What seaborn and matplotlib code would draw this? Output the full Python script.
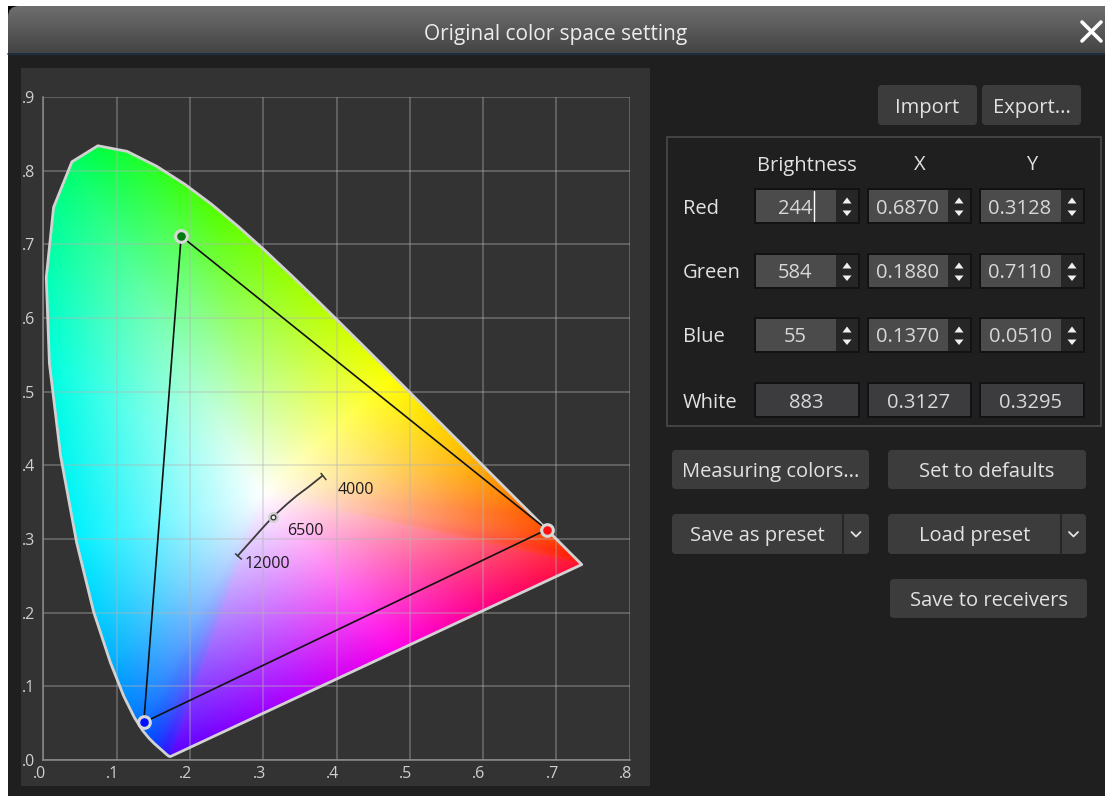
import numpy as np
import matplotlib
matplotlib.use('Agg')
import matplotlib.pyplot as plt
from matplotlib.patches import FancyBboxPatch, Rectangle, Polygon
from matplotlib.colors import LinearSegmentedColormap, to_rgb
from matplotlib.ticker import FuncFormatter
from matplotlib.transforms import ScaledTranslation
import seaborn as sns

sns.set_theme(style='dark')
plt.rcParams['font.family'] = ['Open Sans', 'DejaVu Sans']
plt.rcParams['patch.force_edgecolor'] = False

# ---------------------------------------------------------------------------
# data

# CIE 1931 spectral locus, 380-700 nm
locus_nm = [380, 390, 400, 410, 420, 425, 430, 435, 440, 445, 450, 455, 460,
            465, 470, 475, 480, 485, 490, 495, 500, 505, 510, 515, 520, 525,
            530, 535, 540, 545, 550, 555, 560, 565, 570, 575, 580, 585, 590,
            595, 600, 605, 610, 615, 620, 625, 630, 640, 650, 660, 680, 700]
locus_x = [0.1741, 0.1738, 0.1733, 0.1726, 0.1714, 0.1703, 0.1689, 0.1669,
           0.1644, 0.1611, 0.1566, 0.1510, 0.1440, 0.1355, 0.1241, 0.1096,
           0.0913, 0.0687, 0.0454, 0.0235, 0.0082, 0.0039, 0.0139, 0.0389,
           0.0743, 0.1142, 0.1547, 0.1929, 0.2296, 0.2658, 0.3016, 0.3373,
           0.3731, 0.4087, 0.4441, 0.4788, 0.5125, 0.5448, 0.5752, 0.6029,
           0.6270, 0.6482, 0.6658, 0.6801, 0.6915, 0.7006, 0.7079, 0.7190,
           0.7260, 0.7300, 0.7334, 0.7347]
locus_y = [0.0050, 0.0049, 0.0048, 0.0048, 0.0051, 0.0058, 0.0069, 0.0086,
           0.0109, 0.0138, 0.0177, 0.0227, 0.0297, 0.0399, 0.0578, 0.0868,
           0.1327, 0.2007, 0.2950, 0.4127, 0.5384, 0.6548, 0.7502, 0.8120,
           0.8338, 0.8262, 0.8059, 0.7816, 0.7543, 0.7243, 0.6923, 0.6589,
           0.6245, 0.5896, 0.5547, 0.5202, 0.4866, 0.4544, 0.4242, 0.3965,
           0.3725, 0.3514, 0.3340, 0.3197, 0.3083, 0.2993, 0.2920, 0.2809,
           0.2740, 0.2700, 0.2666, 0.2653]

# colours seen along the edge of the horseshoe
edge_nm = [380, 440, 460, 475, 490, 500, 510, 520, 540, 560, 575, 590, 610, 640, 700]
edge_colors = ['#5a00ff', '#2a1aff', '#0050ff', '#0090ff', '#00f0ff', '#00ffe0',
               '#00ff90', '#00ff40', '#50ff00', '#b0ff00', '#ffff00', '#ffc000',
               '#ff6000', '#ff2000', '#ff1030']
# colours along the line of purples, fraction from the red end
purple_t = [0.2, 0.45, 0.7]
purple_colors = ['#ff0078', '#ff00e8', '#b000ff']
fill_center = (0.30, 0.36)

# primaries of the colour space
channel_names = ['Red', 'Green', 'Blue']
channel_brightness = [244, 584, 55]
channel_x = [0.6870, 0.1880, 0.1370]
channel_y = [0.3128, 0.7110, 0.0510]
channel_colors = ['#ff1010', '#007a10', '#0010ff']

white_brightness = 883
white_x = 0.3127
white_y = 0.3295

# colour temperature curve 4000 K .. 12000 K
cct_k = [4000, 4500, 5000, 5500, 6000, 6500, 7500, 9000, 12000]
cct_x = [0.381, 0.3621, 0.3457, 0.3325, 0.3217, 0.3127, 0.2991, 0.2848, 0.265]
cct_y = [0.386, 0.3709, 0.3587, 0.3476, 0.3378, 0.3295, 0.3150, 0.2990, 0.277]

xticks = [0.0, 0.1, 0.2, 0.3, 0.4, 0.5, 0.6, 0.7, 0.8]
yticks = [0.0, 0.1, 0.2, 0.3, 0.4, 0.5, 0.6, 0.7, 0.8, 0.9]

# ---------------------------------------------------------------------------
# window (drawn in pixel coordinates on a full-figure axes)
W, H = 1105, 796
fig = plt.figure(figsize=(W / 100, H / 100), dpi=100, facecolor='white')
bg = fig.add_axes([0, 0, 1, 1])
bg.axis('off')

UI_TXT = '#e2e2e2'
FS = 14.5
DY = 2.5  # text baseline nudge


def rbox(x0, y0, x1, y1, fc, r=4, z=1):
    p = FancyBboxPatch((x0 + r, y0 + r), x1 - x0 - 2 * r, y1 - y0 - 2 * r,
                       boxstyle=f'round,pad={r}', fc=fc, ec='none', lw=0, zorder=z)
    bg.add_patch(p)
    return p


def label(x, y, text, ha='center', color=UI_TXT, z=3):
    bg.text(x, y + DY, text, color=color, fontsize=FS, ha=ha, va='center', zorder=z)


def button(x0, y0, x1, y1, text, split=None):
    rbox(x0, y0, x1, y1, '#3c3c3c', r=4)
    cx = (x0 + x1) / 2 if split is None else (x0 + split) / 2
    label(cx, (y0 + y1) / 2, text)
    if split is not None:
        bg.plot([split, split], [y0, y1], color='#262626', lw=1.5, zorder=3)
        c = (split + x1) / 2
        m = (y0 + y1) / 2
        bg.plot([c - 4.5, c, c + 4.5], [m - 2, m + 2.5, m - 2],
                color=UI_TXT, lw=1.3, zorder=3, solid_capstyle='round')


def spinbox(x0, y0, x1, y1, text, arrows=True):
    bg.add_patch(Rectangle((x0, y0), x1 - x0, y1 - y0, fc='#121212', ec='none', zorder=1))
    right = x1 - 24 if arrows else x1 - 2
    fc = '#4b4b4b' if arrows else '#3c3c3e'
    bg.add_patch(Rectangle((x0 + 2, y0 + 2), right - x0 - 2, y1 - y0 - 4,
                           fc=fc, ec='none', zorder=2))
    if arrows:
        bg.add_patch(Rectangle((right, y0 + 2), x1 - right - 2, y1 - y0 - 4,
                               fc='#262626', ec='none', zorder=2))
        ac = (right + x1 - 2) / 2
        cy = (y0 + y1) / 2
        bg.add_patch(Polygon([[ac - 4.5, cy - 2.5], [ac + 4.5, cy - 2.5], [ac, cy - 8.5]],
                             fc='#f0f0f0', ec='none', zorder=3))
        bg.add_patch(Polygon([[ac - 4.5, cy + 4.5], [ac + 4.5, cy + 4.5], [ac, cy + 10]],
                             fc='#f0f0f0', ec='none', zorder=3))
    label((x0 + right) / 2, (y0 + y1) / 2, text, color='#d8d8d8', z=4)


# window background and title bar
bg.add_patch(Rectangle((8, 6), W - 8, H - 6, fc='#1f1f1f', ec='none', zorder=0))
bg.add_patch(Rectangle((8, 6), 14, 14, fc='#050505', ec='none', zorder=0.5))
grad = LinearSegmentedColormap.from_list('title', ['#6e6e6e', '#444444'])
im_t = bg.imshow(np.linspace(0, 1, 64)[:, None], cmap=grad, aspect='auto',
                 extent=[8, W, 53, 6], zorder=1)
clip = FancyBboxPatch((8 + 11, 6 + 11), W + 20, 80, boxstyle='round,pad=11',
                      fc='none', ec='none')
bg.add_patch(clip)
im_t.set_clip_path(clip)
bg.plot([8, W], [53.5, 53.5], color='#1d3147', lw=1.2, zorder=2)
bg.text(556, 34.5, 'Original color space setting', color='#ececec',
        fontsize=15, ha='center', va='center', zorder=3)
bg.plot([1082, 1101], [22, 41], color='white', lw=2.6, zorder=3)
bg.plot([1082, 1101], [41, 22], color='white', lw=2.6, zorder=3)

# chart panel
bg.add_patch(Rectangle((21, 68), 650 - 21, 786 - 68, fc='#333333', ec='none', zorder=1))

# right side controls
button(878, 85, 977, 125, 'Import')
button(982, 85, 1081, 125, 'Export...')

bg.add_patch(Rectangle((667, 137), 1101 - 667, 426 - 137, fc='none',
                       ec='#4a4a4a', lw=1.2, zorder=1))
col_x = [(754, 860), (867, 972), (979, 1085)]
label(807, 163, 'Brightness')
label(920, 163, 'X')
label(1032, 163, 'Y')

row_top = [188, 253, 317]
for name, bri, px_, py_, top in zip(channel_names, channel_brightness,
                                    channel_x, channel_y, row_top):
    bot = top + 36
    label(683, (top + bot) / 2, name, ha='left')
    spinbox(col_x[0][0], top, col_x[0][1], bot, f'{bri}')
    spinbox(col_x[1][0], top, col_x[1][1], bot, f'{px_:.4f}')
    spinbox(col_x[2][0], top, col_x[2][1], bot, f'{py_:.4f}')
# text cursor in the edited field
bg.plot([814, 814], [191, 221], color='white', lw=1, zorder=5)

label(683, 400, 'White', ha='left')
spinbox(col_x[0][0], 382, col_x[0][1], 418, f'{white_brightness}', arrows=False)
spinbox(col_x[1][0], 382, col_x[1][1], 418, f'{white_x:.4f}', arrows=False)
spinbox(col_x[2][0], 382, col_x[2][1], 418, f'{white_y:.4f}', arrows=False)

button(672, 450, 869, 489, 'Measuring colors...')
button(888, 450, 1086, 489, 'Set to defaults')
button(672, 514, 869, 554, 'Save as preset', split=843)
button(888, 514, 1086, 554, 'Load preset', split=1061)
button(890, 579, 1087, 618, 'Save to receivers')

bg.set_xlim(0, W)
bg.set_ylim(H, 0)

# ---------------------------------------------------------------------------
# chromaticity chart
ax = fig.add_axes([43.4 / W, 1 - 760 / H, (629.6 - 43.4) / W, (760 - 97) / H])
ax.set_facecolor('none')

# horseshoe fill: triangle fan from a white centre to the coloured edge
edge_rgb = np.array([to_rgb(c) for c in edge_colors])
vert_rgb = np.column_stack([np.interp(locus_nm, edge_nm, edge_rgb[:, k]) for k in range(3)])
x_red, y_red, x_vio, y_vio = locus_x[-1], locus_y[-1], locus_x[0], locus_y[0]
vx = np.array(locus_x + [x_red + t * (x_vio - x_red) for t in purple_t] + locus_x[:1])
vy = np.array(locus_y + [y_red + t * (y_vio - y_red) for t in purple_t] + locus_y[:1])
vc = np.vstack([vert_rgb, [to_rgb(c) for c in purple_colors], vert_rgb[:1]])

gx, gy = np.meshgrid(np.linspace(0.0, 0.8, 700), np.linspace(0.0, 0.9, 790))
rgb = np.zeros(gx.shape + (3,))
cx0, cy0 = fill_center
for i in range(len(vx) - 1):
    v0x, v0y = vx[i] - cx0, vy[i] - cy0
    v1x, v1y = vx[i + 1] - cx0, vy[i + 1] - cy0
    den = v0x * v1y - v1x * v0y
    if abs(den) < 1e-12:
        continue
    px_, py_ = gx - cx0, gy - cy0
    b = (px_ * v1y - v1x * py_) / den
    c = (v0x * py_ - px_ * v0y) / den
    a = 1 - b - c
    inside = (a >= -1e-9) & (b >= -1e-9) & (c >= -1e-9)
    col = a[..., None] * 1.0 + b[..., None] * vc[i] + c[..., None] * vc[i + 1]
    rgb[inside] = col[inside]
rgb = np.clip(rgb, 0, 1)

locus = Polygon(np.column_stack([locus_x, locus_y]), closed=True, fc='none',
                ec='#d2d2d2', lw=2.0, joinstyle='round', zorder=4, clip_on=False)
ax.add_patch(locus)
img = ax.imshow(rgb, origin='lower', extent=[0, 0.8, 0, 0.9], aspect='auto',
                interpolation='bilinear', zorder=0.8)
img.set_clip_path(locus)

# gamut triangle
tri_x = channel_x + channel_x[:1]
tri_y = channel_y + channel_y[:1]
ax.plot(tri_x, tri_y, color='#111111', lw=1.2, zorder=5)

# colour temperature curve
sns.lineplot(x=cct_x, y=cct_y, sort=False, color='#3a3a3a', lw=1.3, ax=ax, zorder=5)
for i, j in [(0, 1), (-1, -2)]:
    ang = np.degrees(np.arctan2(cct_y[i] - cct_y[j], cct_x[i] - cct_x[j]))
    ax.plot(cct_x[i], cct_y[i], marker=(2, 0, ang), ms=6.5, mew=1.1,
            color='#3a3a3a', zorder=5)
ax.plot(white_x, white_y, 'o', ms=8, color='#cfcfcf', alpha=0.85, mew=0, zorder=6)
ax.plot(white_x, white_y, 'o', ms=3.4, mfc='#f0f0f0', mec='#303030', mew=0.9, zorder=7)
for (lx, ly), lab, off in [((cct_x[0], cct_y[0]), f'{cct_k[0]}', (11, -10.5)),
                           ((white_x, white_y), f'{cct_k[5]}', (10.4, -10)),
                           ((cct_x[-1], cct_y[-1]), f'{cct_k[-1]}', (5, -5.5))]:
    ax.annotate(lab, (lx, ly), xytext=off, textcoords='offset points',
                fontsize=11.5, color='#1c1c1c', ha='left', va='center', zorder=8)

# primaries
for cxp, cyp, c in zip(channel_x, channel_y, channel_colors):
    ax.plot(cxp, cyp, 'o', ms=8.4, mfc=c, mec='#d8d8d8', mew=2.2, zorder=8)

ax.set_xlim(0, 0.8)
ax.set_ylim(0, 0.9)
ax.set_xticks(xticks)
ax.set_yticks(yticks)
fmt = FuncFormatter(lambda v, _: f'{v:.1f}'.lstrip('0'))
ax.xaxis.set_major_formatter(fmt)
ax.yaxis.set_major_formatter(fmt)
ax.tick_params(axis='both', colors='#cfcfcf', labelsize=11.5, length=0)
ax.tick_params(axis='x', pad=4.5)
ax.tick_params(axis='y', pad=6)
shift = ScaledTranslation(0.025, 0, fig.dpi_scale_trans)
for t in ax.get_xticklabels():
    t.set_ha('right')
    t.set_transform(t.get_transform() + shift)
ax.set_axisbelow('line')
ax.grid(True, color='#b4b4b4', alpha=0.45, lw=1.1)
for side in ['top', 'right']:
    ax.spines[side].set_visible(False)
for side in ['left', 'bottom']:
    ax.spines[side].set_color('#8c8c8c')
    ax.spines[side].set_linewidth(1.1)

fig.savefig('out.png', dpi=100, facecolor='white')
